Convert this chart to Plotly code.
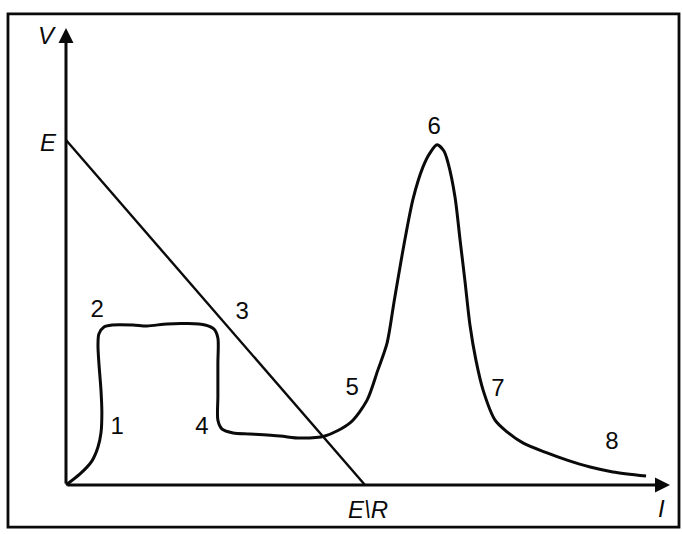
import plotly.graph_objects as go

# Current-voltage characteristic (arbitrary units) and the load line V = E - I*R
current = [0.00, 0.47, 0.87, 1.07, 1.17, 1.20, 1.17, 1.10, 1.07, 1.10, 1.27, 1.54,
           2.24, 2.71, 3.38, 4.05, 4.65, 4.95, 5.08, 5.08, 5.08, 5.08, 5.22, 5.59,
           6.15, 7.16, 7.83, 8.66, 9.50, 10.07, 10.43, 10.74, 10.97, 11.30,
           11.61, 11.94, 12.17, 12.41, 12.64, 12.78, 13.01, 13.18, 13.34, 13.51,
           13.71, 13.95, 14.35, 14.75, 15.28, 16.09, 16.76, 17.53, 18.29, 19.40]
voltage = [0.00, 0.32, 0.70, 1.10, 1.51, 2.09, 2.75, 3.54, 4.06, 4.38, 4.58, 4.64,
           4.64, 4.61, 4.67, 4.68, 4.64, 4.52, 4.26, 3.54, 2.55, 1.88, 1.62, 1.51,
           1.48, 1.42, 1.36, 1.42, 1.80, 2.46, 3.33, 4.12, 5.30, 6.95,
           8.30, 9.22, 9.62, 9.86, 9.68, 9.33, 8.35, 7.10, 5.94, 4.64,
           3.62, 2.75, 1.88, 1.54, 1.22, 0.93, 0.72, 0.52, 0.38, 0.26]

E = 10.0          # source voltage (V-axis intercept)
E_over_R = 10.0   # short-circuit current (I-axis intercept)
load_current = [0.0, E_over_R]
load_voltage = [E, 0.0]

# Numbered points along the characteristic
point_labels = ["1", "2", "3", "4", "5", "6", "7", "8"]
point_i = [1.71, 1.04, 5.89, 4.55, 9.57, 12.31, 14.45, 18.26]
point_v = [1.65, 5.04, 4.99, 1.65, 2.78, 10.35, 2.75, 1.22]

# Axis extents (arrow tips)
I_MAX = 20.2
V_MAX = 13.25

INK = "#0a0a0a"
FONT = "Liberation Sans, Arial, sans-serif"

fig = go.Figure()

fig.add_trace(go.Scatter(
    x=load_current, y=load_voltage, mode="lines",
    line=dict(color=INK, width=2.4), hoverinfo="skip", showlegend=False))

fig.add_trace(go.Scatter(
    x=current, y=voltage, mode="lines",
    line=dict(color=INK, width=3, shape="spline", smoothing=0.8),
    hoverinfo="skip", showlegend=False))

fig.add_trace(go.Scatter(
    x=point_i, y=point_v, mode="text", text=point_labels,
    textfont=dict(family=FONT, size=24, color=INK),
    hoverinfo="skip", showlegend=False))

# Axes drawn as arrows from the origin
for tip_x, tip_y in [(I_MAX, 0), (0, V_MAX)]:
    fig.add_annotation(
        x=tip_x, y=tip_y, ax=0, ay=0, xref="x", yref="y", axref="x", ayref="y",
        text="", showarrow=True, arrowhead=2, arrowsize=1.0, arrowwidth=3,
        arrowcolor=INK, standoff=0, startstandoff=0)

axis_text = [
    ("<i>V</i>", -0.64, 13.04),
    ("<i>E</i>", -0.60, 9.94),
    ("<i>E\\R</i>", E_over_R + 0.10, -0.72),
    ("<i>I</i>", 19.90, -0.67),
]
for txt, tx, ty in axis_text:
    fig.add_annotation(x=tx, y=ty, xref="x", yref="y", text=txt, showarrow=False,
                       font=dict(family=FONT, size=24, color=INK))

# Frame around the drawing
fig.add_shape(type="rect", xref="paper", yref="paper",
              x0=0.0117, x1=0.9956, y0=0.013, y1=0.974,
              line=dict(color=INK, width=2.8))

fig.update_xaxes(range=[-2.207, 20.602], visible=False, fixedrange=True)
fig.update_yaxes(range=[-1.420, 14.058], visible=False, fixedrange=True)
fig.update_layout(
    width=682, height=534, margin=dict(l=0, r=0, t=0, b=0),
    paper_bgcolor="white", plot_bgcolor="white")

fig.write_html("out.html")
